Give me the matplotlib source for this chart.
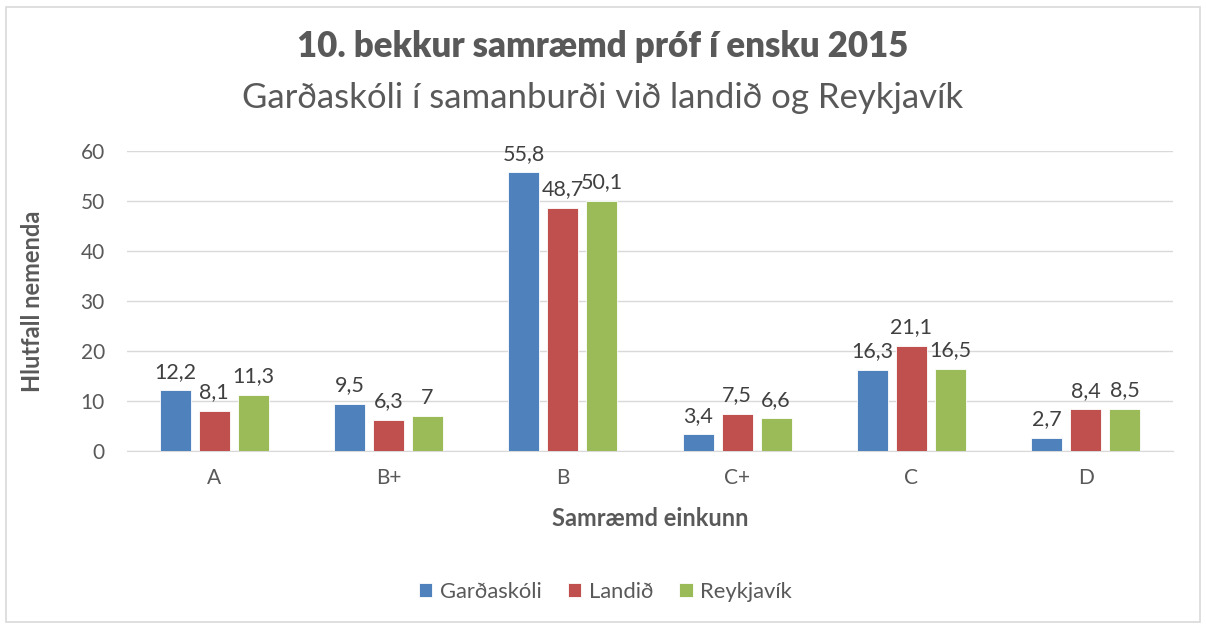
import numpy as np
import matplotlib
matplotlib.use("Agg")
from matplotlib import pyplot as plt
from matplotlib.patches import Rectangle

plt.rcParams['font.family'] = ['Lato', 'DejaVu Sans']

categories = ['A', 'B+', 'B', 'C+', 'C', 'D']
gardaskoli = [12.2, 9.5, 55.8, 3.4, 16.3, 2.7]
landid = [8.1, 6.3, 48.7, 7.5, 21.1, 8.4]
reykjavik = [11.3, 7, 50.1, 6.6, 16.5, 8.5]
series_names = ['Garðaskóli', 'Landið', 'Reykjavík']
colors = ['#4F81BD', '#C0504D', '#9BBB59']

txt = '#595959'

fig = plt.figure(figsize=(12.06, 6.24), dpi=100)
ax = fig.add_axes([0.1053, 0.2772, 0.8673, 0.4808])

x = np.arange(len(categories))
width = 0.178
step = 0.224
for i, (vals, name, c) in enumerate(zip([gardaskoli, landid, reykjavik], series_names, colors)):
    bars = ax.bar(x + (i - 1) * step, vals, width, color=c, label=name,
                  edgecolor='white', linewidth=0.6, zorder=3)
    labels = [('%g' % v).replace('.', ',') for v in vals]
    ax.bar_label(bars, labels=labels, padding=6, fontsize=15.5, color='#404040')

ax.set_xlim(-0.5, len(categories) - 0.5)
ax.set_ylim(0, 60)
ax.set_yticks(range(0, 61, 10))
ax.set_xticks(x)
ax.set_xticklabels(categories)
ax.grid(axis='y', color='#D9D9D9', linewidth=1, zorder=0)
for s in ['top', 'right', 'left']:
    ax.spines[s].set_visible(False)
ax.spines['bottom'].set_color('#D9D9D9')
ax.tick_params(axis='both', length=0, labelsize=15, labelcolor=txt)
ax.tick_params(axis='y', pad=16)
ax.tick_params(axis='x', pad=12)

ax.set_ylabel('Hlutfall nemenda', fontsize=17, fontweight='bold', color=txt)
ax.yaxis.set_label_coords(-0.079, 0.5)
ax.set_xlabel('Samræmd einkunn', fontsize=17, fontweight='bold', color=txt, labelpad=14)

fig.text(0.5, 0.925, '10. bekkur samræmd próf í ensku 2015', ha='center', va='center',
         fontsize=25, fontweight='heavy', color=txt)
fig.text(0.5, 0.843, 'Garðaskóli í samanburði við landið og Reykjavík', ha='center', va='center',
         fontsize=25, color=txt)

fig.legend(loc='center', bbox_to_anchor=(0.502, 0.051), ncol=3, frameon=False,
           fontsize=15.8, labelcolor=txt, handlelength=0.6, handleheight=0.6,
           handletextpad=0.35, columnspacing=1.2)

fig.patches.append(Rectangle((0.005, 0.003), 0.99, 0.986, transform=fig.transFigure,
                             fill=False, edgecolor='#D9D9D9', linewidth=1.2))

fig.savefig('out.png', dpi=100)
